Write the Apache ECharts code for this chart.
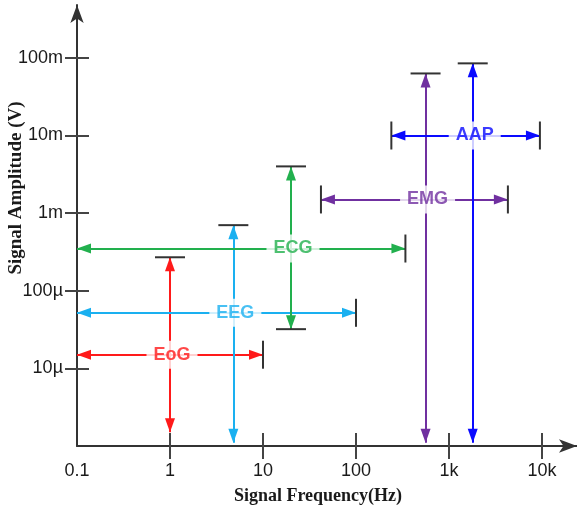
<!DOCTYPE html>
<html>
<head>
<meta charset="utf-8">
<script src="https://cdn.jsdelivr.net/npm/echarts@6/dist/echarts.min.js"></script>
<style>
html,body{margin:0;padding:0;background:#fff;}
#chart{width:577px;height:511px;}
</style>
</head>
<body>
<div id="chart"></div>
<script>
// ---- data ----
var signalNames = ['EoG', 'EEG', 'ECG', 'EMG', 'AAP'];
var signalColors = ['#ff1a1a', '#1ab0f0', '#22b04e', '#7030a0', '#0a0aff'];
// horizontal arrows: frequency span at a given amplitude
var hFreqMin = [0.1, 0.1, 0.1, 42, 240];
var hFreqMax = [10, 100, 340, 4300, 9500];
var hAmp = [15e-6, 52e-6, 350e-6, 1.5e-3, 10e-3];
// vertical arrows: amplitude span at a given frequency
var vFreq = [1, 4.8, 20, 560, 1800];
var vAmpMin = [1.5e-6, 1.1e-6, 32e-6, 1.1e-6, 1.1e-6];
var vAmpMax = [270e-6, 700e-6, 4e-3, 63e-3, 85e-3];
// which extra end bars exist
var capLeft = [false, false, false, true, true];
var capBottom = [false, false, true, false, false];

var xTickValues = [1, 10, 100, 1000, 10000];
var xLabelValues = [0.1, 1, 10, 100, 1000, 10000];
var xTickLabels = ['0.1', '1', '10', '100', '1k', '10k'];
var yTickValues = [1e-5, 1e-4, 1e-3, 1e-2, 1e-1];
var yTickLabels = ['10µ', '100µ', '1m', '10m', '100m'];

var xMin = 0.1, xMax = 23800, yMin = 1e-6, yMax = 0.48;

function lookup(values, labels, v) {
  var lv = Math.log10(v);
  for (var i = 0; i < values.length; i++) {
    if (Math.abs(Math.log10(values[i]) - lv) < 0.01) return labels[i];
  }
  return '';
}

var axisColor = '#333';
var labelFont = 'Liberation Sans';

var series = [];
for (var i = 0; i < signalNames.length; i++) {
  series.push({
    type: 'scatter',
    name: signalNames[i],
    xAxisIndex: 0, yAxisIndex: 0,
    z: 10,
    symbolSize: 0,
    data: [[vFreq[i], hAmp[i]]],
    label: {
      show: true,
      position: 'inside',
      offset: [2, 0],
      formatter: signalNames[i],
      color: signalColors[i],
      fontSize: 18,
      fontWeight: 'bold',
      fontFamily: labelFont,
      backgroundColor: '#ffffff',
      padding: [5, 7],
      lineHeight: 18
    },
    markLine: {
      silent: true,
      z: 5,
      animation: false,
      symbol: ['triangle', 'triangle'],
      symbolSize: [10, 14],
      symbolOffset: [[0, 7], [0, 7]],
      label: {show: false},
      emphasis: {disabled: true},
      lineStyle: {color: signalColors[i], width: 2, type: 'solid', opacity: 1},
      data: [
        [{coord: [hFreqMin[i], hAmp[i]]}, {coord: [hFreqMax[i], hAmp[i]]}],
        [{coord: [vFreq[i], vAmpMin[i]]}, {coord: [vFreq[i], vAmpMax[i]]}]
      ]
    }
  });
}

var caps = [];
for (var j = 0; j < signalNames.length; j++) {
  caps.push({value: [hFreqMax[j], hAmp[j]], symbolSize: [2, 28]});
  caps.push({value: [vFreq[j], vAmpMax[j]], symbolSize: [30, 2]});
  if (capLeft[j]) caps.push({value: [hFreqMin[j], hAmp[j]], symbolSize: [2, 28]});
  if (capBottom[j]) caps.push({value: [vFreq[j], vAmpMin[j]], symbolSize: [30, 2]});
}
series.push({
  type: 'scatter',
  name: 'caps',
  xAxisIndex: 0, yAxisIndex: 0,
  z: 6,
  symbol: 'rect',
  itemStyle: {color: '#333', opacity: 1},
  data: caps
});

var gridRect = {left: 77, right: 0, top: 5, bottom: 65, outerBoundsMode: 'none', containLabel: false};

var option = {
  animation: false,
  backgroundColor: '#ffffff',
  grid: [Object.assign({}, gridRect), Object.assign({}, gridRect)],
  xAxis: [{
    gridIndex: 0,
    type: 'log', logBase: 10, min: xMin, max: xMax,
    position: 'bottom',
    splitLine: {show: false}, minorTick: {show: false},
    axisLine: {show: true, lineStyle: {color: axisColor, width: 2}, symbol: ['none', 'arrow'], symbolSize: [10, 18]},
    axisTick: {show: true, inside: false, length: 13, lineStyle: {color: '#444', width: 2}, customValues: xTickValues},
    axisLabel: {
      show: true, margin: 16, color: '#1a1a1a', fontSize: 18, fontFamily: labelFont,
      customValues: xLabelValues,
      formatter: function (v) { return lookup(xLabelValues, xTickLabels, v); }
    }
  }, {
    gridIndex: 1,
    type: 'log', logBase: 10, min: xMin, max: xMax,
    position: 'bottom',
    splitLine: {show: false},
    axisLine: {show: false},
    axisTick: {show: true, inside: true, length: 13, lineStyle: {color: '#444', width: 2}, customValues: xTickValues},
    axisLabel: {show: false}
  }],
  yAxis: [{
    gridIndex: 0,
    type: 'log', logBase: 10, min: yMin, max: yMax,
    position: 'left',
    splitLine: {show: false}, minorTick: {show: false},
    axisLine: {show: true, lineStyle: {color: axisColor, width: 2}, symbol: ['none', 'arrow'], symbolSize: [10, 18]},
    axisTick: {show: true, inside: false, length: 12, lineStyle: {color: '#444', width: 2}, customValues: yTickValues},
    axisLabel: {
      show: true, margin: 14, color: '#1a1a1a', fontSize: 18, fontFamily: labelFont,
      customValues: yTickValues,
      formatter: function (v) { return lookup(yTickValues, yTickLabels, v); }
    }
  }, {
    gridIndex: 1,
    type: 'log', logBase: 10, min: yMin, max: yMax,
    position: 'left',
    splitLine: {show: false},
    axisLine: {show: false},
    axisTick: {show: true, inside: true, length: 12, lineStyle: {color: '#444', width: 2}, customValues: yTickValues},
    axisLabel: {show: false}
  }],
  graphic: [{
    type: 'text', x: 318, y: 496, silent: true,
    style: {text: 'Signal Frequency(Hz)', font: 'bold 18px "Liberation Serif"', fill: '#1a1a1a', align: 'center', verticalAlign: 'middle'}
  }, {
    type: 'text', x: 16, y: 188, rotation: Math.PI / 2, silent: true,
    style: {text: 'Signal Amplitude (V)', font: 'bold 19px "Liberation Serif"', fill: '#1a1a1a', align: 'center', verticalAlign: 'middle'}
  }],
  series: series
};

var chart = echarts.init(document.getElementById('chart'), null, {renderer: 'canvas'});
chart.setOption(option);
</script>
</body>
</html>
